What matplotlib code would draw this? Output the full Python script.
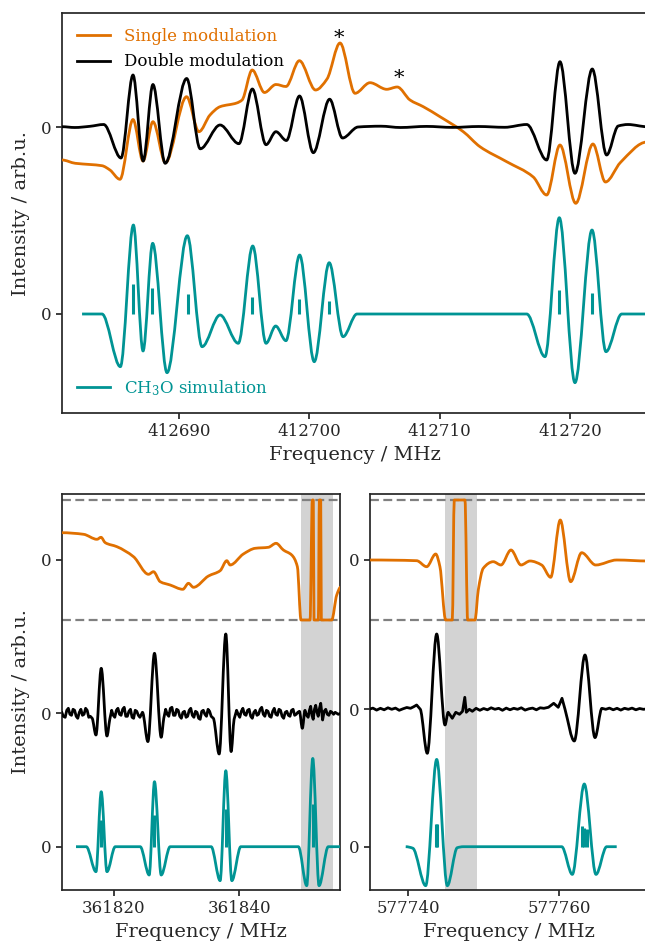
import numpy as np
import matplotlib
matplotlib.use("Agg")
import matplotlib.pyplot as plt
from matplotlib.path import Path
from matplotlib.patches import PathPatch
from matplotlib.lines import Line2D

plt.rcParams['font.family'] = ['DejaVu Serif']
plt.rcParams['mathtext.fontset'] = 'dejavuserif'

ORANGE = '#E07000'
BLACK = '#000000'
TEAL = '#009494'
AXC = '#262626'

# ---------------- data: top panel (412.7 GHz region) ----------------
top_sim_f = [412682.56, 412684.09, 412685.50, 412686.50, 412687.24, 412687.98, 412689.08,
             412690.64, 412691.77, 412693.15, 412694.55, 412695.66, 412696.68, 412697.42,
             412698.21, 412699.26, 412700.38, 412701.53, 412702.59, 412703.66, 412716.69,
             412718.09, 412719.19, 412720.39, 412721.70, 412722.77, 412723.98, 412725.92]
top_sim_i = [0, 0, -5.27, 8.9, -3.7, 7.07, -5.87, 7.83, -3.27, -0.1, -2.93, 6.8, -2.93, -1.2,
             -2.67, 5.9, -4.77, 5.13, -2.27, 0, 0, -4.27, 9.63, -6.87, 8.4, -3.77, 0, 0]

top_dbl_f = [412681.02, 412682.0, 412683.17, 412684.22, 412685.55, 412686.47, 412687.25,
             412688.0, 412688.94, 412690.59, 412691.63, 412693.15, 412694.6, 412695.63,
             412696.68, 412697.44, 412698.24, 412699.25, 412700.31, 412701.56, 412702.55,
             412703.74, 412705.5, 412707.0, 412709.0, 412711.0, 412713.0, 412715.0,
             412716.69, 412718.22, 412719.24, 412720.39, 412721.72, 412722.82, 412723.71,
             412724.46, 412725.92]
top_dbl_i = [0.03, -0.05, 0.07, 0.25, -3.1, 5.2, -3.4, 4.25, -3.63, 4.85, -2.18, 0.2, -1.67,
             3.8, -1.77, -0.47, -1.35, 3.1, -2.57, 2.78, -1.1, 0.0, 0.08, -0.05, 0.06, -0.04,
             0.05, -0.03, 0.25, -3.3, 6.53, -4.63, 5.8, -2.8, 0.1, 0.25, 0.03]

top_sgl_f = [412681.02, 412682.04, 412683.17, 412684.09, 412684.7, 412685.47, 412686.47,
             412687.24, 412688.0, 412688.96, 412690.58, 412691.53, 412692.38, 412693.15,
             412694.43, 412694.84, 412695.62, 412696.56, 412697.44, 412698.21, 412699.24,
             412700.48, 412701.36, 412702.36, 412703.51, 412704.66, 412705.94, 412706.75,
             412707.73, 412708.75, 412710.03, 412711.82, 412713.1, 412715.15, 412717.19,
             412718.22, 412719.24, 412720.45, 412721.77, 412722.73, 412723.88, 412725.92]
top_sgl_i = [-3.3, -3.63, -3.75, -3.87, -4.3, -5.23, 0.75, -3.4, 0.53, -3.57, 3.03, -0.47,
             1.2, 2.03, 2.4, 2.7, 5.7, 3.45, 4.25, 4.05, 6.63, 3.7, 4.8, 8.4, 3.37, 4.43,
             3.77, 4.0, 2.7, 2.03, 1.03, -0.47, -1.97, -3.47, -5.0, -6.8, -1.8, -7.63, -1.7,
             -5.5, -3.55, -1.5]

top_stick_f = [412686.50, 412687.93, 412690.69, 412695.63, 412699.23, 412701.53, 412719.19, 412721.72]
top_stick_i = [3.0, 2.6, 2.0, 1.7, 1.5, 1.3, 2.4, 2.1]

top_marks_f = [412702.28, 412706.88]
top_marks_i = [8.9, 4.9]

# ---------------- data: bottom-left panel (361.8 GHz region) ----------------
bl_sgl_f = [361811.7, 361815.23, 361817.36, 361818.0, 361818.68, 361820.54, 361823.18,
            361825.57, 361826.36, 361827.43, 361829.02, 361831.04, 361831.93, 361832.73,
            361835.12, 361836.98, 361838.04, 361838.57, 361840.68, 361842.55, 361844.66,
            361845.89, 361847.05, 361848.38, 361849.28, 361849.86, 361851.3, 361851.66,
            361851.82, 361851.93, 361852.62, 361852.78, 361853.0, 361853.1, 361854.75,
            361855.55, 361856.2]
bl_sgl_i = [2.73, 2.57, 2.07, 2.27, 1.73, 1.33, 0.33, -1.43, -1.17, -2.17, -2.5, -2.93, -2.33,
            -2.73, -1.6, -1.07, -0.07, -0.5, 0.6, 1.17, 1.27, 1.67, 1.0, 0.5, -0.67, -6.0,
            -6.0, 6.0, 6.0, -6.0, -6.0, 6.0, 6.0, -6.0, -6.0, -3.5, -2.7]

bl_dbl_f = [361811.7, 361812.0, 361812.3, 361812.55, 361812.8, 361813.05, 361813.3, 361813.55,
            361813.8, 361814.05, 361814.3, 361814.55, 361814.8, 361815.05, 361815.3, 361815.55,
            361815.8, 361816.05, 361816.3, 361816.6, 361817.2, 361818.04, 361818.95, 361819.4,
            361819.7, 361819.95, 361820.2, 361820.45, 361820.7, 361820.95, 361821.2, 361821.45,
            361821.7, 361821.95, 361822.2, 361822.45, 361822.7, 361822.95, 361823.2, 361823.45,
            361823.7, 361823.95, 361824.2, 361824.6, 361825.47, 361826.52, 361827.59, 361828.0,
            361828.3, 361828.55, 361828.8, 361829.05, 361829.3, 361829.55, 361829.8, 361830.05,
            361830.3, 361830.55, 361830.8, 361831.05, 361831.3, 361831.55, 361831.8, 361832.05,
            361832.3, 361832.55, 361832.8, 361833.05, 361833.3, 361833.55, 361833.8, 361834.05,
            361834.3, 361834.55, 361834.8, 361835.05, 361835.3, 361835.55, 361835.9, 361836.82,
            361837.88, 361838.73, 361839.2, 361839.6, 361839.85, 361840.1, 361840.35, 361840.6,
            361840.85, 361841.1, 361841.35, 361841.6, 361841.85, 361842.1, 361842.35, 361842.6,
            361842.85, 361843.1, 361843.35, 361843.6, 361843.85, 361844.1, 361844.35, 361844.6,
            361844.85, 361845.1, 361845.35, 361845.6, 361845.85, 361846.1, 361846.35, 361846.6,
            361846.85, 361847.1, 361847.35, 361847.6, 361847.85, 361848.1, 361848.35, 361848.6,
            361848.85, 361849.1, 361849.35, 361849.6, 361850.07, 361850.5, 361850.75, 361851.0,
            361851.2, 361851.4, 361851.6, 361851.8, 361852.0, 361852.2, 361852.4, 361852.6,
            361852.8, 361853.0, 361853.3, 361853.55, 361853.8, 361854.05, 361854.3, 361854.55,
            361854.8, 361855.05, 361855.3, 361855.55, 361855.8, 361856.2]
bl_dbl_i = [0.2, -0.3, -0.4, 0.3, 0.5, -0.1, -0.2, 0.4, 0.3, -0.3, -0.5, 0.1, 0.4, -0.2, -0.1,
            0.5, 0.3, -0.4, -0.3, -0.5, -2.17, 4.5, -2.27, -0.6, 0.3, -0.2, -0.4, 0.3, 0.5, -0.1,
            -0.2, 0.4, 0.6, -0.3, -0.3, 0.2, 0.4, -0.4, -0.5, 0.3, 0.2, -0.2, -0.4, 0.1, -2.83,
            6.0, -2.4, -0.5, 0.4, -0.1, -0.3, 0.5, 0.6, -0.2, -0.2, 0.4, 0.3, -0.3, -0.5, 0.1,
            0.2, -0.4, -0.3, 0.3, 0.5, -0.2, -0.4, 0.2, 0.1, -0.5, -0.6, 0.2, 0.3, -0.1, -0.3,
            0.4, 0.2, -0.3, -0.5, -4.07, 7.93, -3.83, -0.6, 0.3, -0.1, -0.4, 0.2, 0.5, -0.1, -0.2,
            0.3, 0.4, -0.3, -0.5, 0.1, 0.3, -0.2, -0.1, 0.4, 0.6, -0.1, -0.3, 0.3, 0.2, -0.3,
            -0.4, 0.2, 0.5, -0.1, -0.2, 0.4, 0.3, -0.3, -0.5, 0.1, 0.2, -0.2, -0.3, 0.3, 0.4,
            -0.2, -0.1, 0.1, 0.2, -1.5, 0.3, -0.2, -0.4, 0.3, 0.7, -0.2, -0.6, 0.4, 0.8, 0.1,
            -0.3, 0.5, 1.0, -0.67, 0.2, 0.4, -0.1, -0.2, 0.2, 0.1, -0.1, 0.1, 0.0, -0.1, 0.0]

bl_sim_f = [361814.02, 361815.66, 361817.2, 361818.04, 361818.95, 361820.27, 361824.25,
            361825.68, 361826.52, 361827.59, 361829.02, 361835.55, 361836.98, 361837.88,
            361838.84, 361840.27, 361849.44, 361850.77, 361851.73, 361852.73, 361854.2, 361856.2]
bl_sim_i = [0, 0, -2.5, 5.5, -2.5, 0, 0, -2.83, 6.5, -2.83, 0, 0, -3.4, 7.6, -3.4, 0, 0, -3.9,
            8.83, -3.9, 0, 0]

bl_stick_f = [361818.04, 361826.52, 361837.88, 361851.73]
bl_stick_i = [2.7, 3.2, 3.8, 4.3]

# ---------------- data: bottom-right panel (577.7 GHz region) ----------------
br_sgl_f = [577734.8, 577741.11, 577742.44, 577743.64, 577744.2, 577744.96, 577745.84, 577746.1,
            577747.52, 577747.88, 577748.85, 577749.29, 577749.95, 577751.28, 577752.3,
            577753.63, 577754.96, 577756.15, 577757.7, 577758.9, 577760.17, 577761.55,
            577763.01, 577764.87, 577767.66, 577771.8]
br_sgl_i = [0, -0.07, -0.67, 0.6, -0.67, -6.0, -6.0, 6.0, 6.0, -6.0, -6.0, -3.0, -0.83, -0.17,
            -0.5, 1.0, -0.5, -0.1, -0.5, -1.73, 4.0, -2.17, 0.73, -0.5, 0.0, -0.1]

br_dbl_f = [577734.8, 577735.3, 577735.8, 577736.3, 577736.8, 577737.3, 577737.8, 577738.3,
            577738.8, 577739.3, 577739.8, 577740.3, 577740.7, 577741.11, 577741.6,
            577742.52, 577743.77, 577744.87, 577745.3, 577745.84, 577746.3, 577746.8, 577747.2,
            577747.5, 577747.7, 577748.1, 577748.5, 577749.0, 577749.5, 577750.0, 577750.5,
            577751.0, 577751.5, 577752.0, 577752.5, 577753.0, 577753.5, 577754.0, 577754.5,
            577755.0, 577755.5, 577756.0, 577756.5, 577757.0, 577757.5, 577758.0, 577758.6,
            577759.3, 577759.9, 577760.4, 577760.8, 577762.03, 577763.45, 577764.78, 577765.7,
            577766.2, 577766.7, 577767.2, 577767.7, 577768.2, 577768.7, 577769.2, 577769.7,
            577770.2, 577770.7, 577771.2, 577771.8]
br_dbl_i = [0.0, 0.12, -0.08, 0.1, -0.05, 0.15, 0.0, 0.12, -0.1, 0.05, 0.18, 0.1, 0.25, 0.43,
            0.0, -4.4, 7.53, -1.57, -0.3, -0.9, -0.3, -0.5, -0.2, 1.2, -0.3, 0.0, -0.2, 0.1,
            -0.1, 0.08, -0.05, 0.15, 0.0, 0.1, -0.1, 0.12, -0.05, 0.1, 0.0, 0.15, -0.08, 0.05,
            0.12, -0.05, 0.15, 0.1, 0.2, 0.6, 0.2, 1.1, 0.0, -3.17, 5.43, -2.83, 0.1, 0.0, 0.12,
            -0.05, 0.1, -0.08, 0.1, 0.0, 0.12, -0.05, 0.08, 0.0, 0.05]

br_sim_f = [577739.66, 577740.6, 577742.31, 577743.77, 577745.18, 577746.5, 577747.3,
            577760.36, 577761.77, 577763.36, 577764.91, 577766.33, 577767.66]
br_sim_i = [0, -0.15, -3.9, 8.73, -3.9, -0.1, 0, 0, -2.77, 6.27, -2.77, 0, 0]

br_stick_f = [577743.62, 577743.82, 577763.0, 577763.35, 577763.7]
br_stick_i = [2.3, 2.3, 2.07, 1.83, 1.73]

# offsets / limits (arbitrary intensity units)
TOP_OFF = {'exp': 0.0, 'sim': -18.7}
BL_OFF = {'sgl': 0.0, 'dbl': -15.33, 'sim': -28.67}
BR_OFF = {'sgl': 0.0, 'dbl': -14.93, 'sim': -28.67}
CLIP = 6.0
BL_SHADE = (361849.86, 361854.91)
BR_SHADE = (577744.87, 577749.08)


def smooth_line(ax, x, y, offset=0.0, color='k', lw=2.0, zorder=3, lin_below=None):
    """Monotone cubic Bezier path through the points; segments whose two ends both lie
    below `lin_below` in magnitude (baseline noise) are drawn as straight segments."""
    x = np.asarray(x, float)
    y0 = np.asarray(y, float)
    y = y0 + offset
    h = np.diff(x)
    dl = np.diff(y) / h
    d = np.zeros_like(y)
    for k in range(1, len(x) - 1):
        if dl[k - 1] * dl[k] > 0:
            w1 = 2 * h[k] + h[k - 1]
            w2 = h[k] + 2 * h[k - 1]
            d[k] = (w1 + w2) / (w1 / dl[k - 1] + w2 / dl[k])
    verts = [(x[0], y[0])]
    codes = [Path.MOVETO]
    for k in range(len(x) - 1):
        if lin_below is not None and abs(y0[k]) < lin_below and abs(y0[k + 1]) < lin_below:
            verts.append((x[k + 1], y[k + 1]))
            codes.append(Path.LINETO)
        else:
            verts += [(x[k] + h[k] / 3, y[k] + d[k] * h[k] / 3),
                      (x[k + 1] - h[k] / 3, y[k + 1] - d[k + 1] * h[k] / 3),
                      (x[k + 1], y[k + 1])]
            codes += [Path.CURVE4] * 3
    patch = PathPatch(Path(verts, codes), facecolor='none', edgecolor=color, lw=lw,
                      joinstyle='round', capstyle='butt', zorder=zorder)
    ax.add_patch(patch)


def sticks(ax, f, i, offset, color=TEAL, lw=2.2):
    ax.vlines(f, offset, np.asarray(i) + offset, colors=color, lw=lw, zorder=4)


def style(ax):
    for s in ax.spines.values():
        s.set_color(AXC)
        s.set_linewidth(1.25)
    ax.tick_params(colors=AXC, labelsize=12, width=1.25, length=4)
    ax.ticklabel_format(axis='x', useOffset=False, style='plain')


fig = plt.figure(figsize=(6.45, 9.43), dpi=100)

# ---------------- top panel ----------------
ax = fig.add_axes([62 / 645, 1 - 413 / 943, 585 / 645, 400 / 943])
smooth_line(ax, top_sgl_f, top_sgl_i, TOP_OFF['exp'], ORANGE)
smooth_line(ax, top_dbl_f, top_dbl_i, TOP_OFF['exp'], BLACK)
smooth_line(ax, top_sim_f, top_sim_i, TOP_OFF['sim'], TEAL)
sticks(ax, top_stick_f, top_stick_i, TOP_OFF['sim'])
for f, v in zip(top_marks_f, top_marks_i):
    ax.text(f, v, '*', ha='center', va='center', fontsize=15, color='k')
ax.set_xlim(412681.02, 412725.92)
ax.set_ylim(-28.6, 11.4)
ax.set_xticks([412690, 412700, 412710, 412720])
ax.set_yticks([TOP_OFF['exp'], TOP_OFF['sim']])
ax.set_yticklabels(['0', '0'])
style(ax)
ax.set_xlabel('Frequency / MHz', fontsize=14, color=AXC)
ax.set_ylabel('Intensity / arb.u.', fontsize=14, color=AXC, labelpad=8)
h1 = [Line2D([], [], color=ORANGE, lw=2), Line2D([], [], color=BLACK, lw=2)]
leg1 = ax.legend(h1, ['Single modulation', 'Double modulation'], loc='upper left',
                 frameon=False, fontsize=12)
leg1.get_texts()[0].set_color(ORANGE)
leg1.get_texts()[1].set_color(BLACK)
ax.add_artist(leg1)
leg2 = ax.legend([Line2D([], [], color=TEAL, lw=2)], ['CH$_3$O simulation'],
                 loc='lower left', frameon=False, fontsize=12)
leg2.get_texts()[0].set_color(TEAL)

# ---------------- bottom-left panel ----------------
ax = fig.add_axes([62 / 645, 1 - 890 / 943, 278 / 645, 396 / 943])
ax.axvspan(*BL_SHADE, color='#d3d3d3', lw=0, zorder=1)
for c in (CLIP, -CLIP):
    ax.axhline(c, color='#808080', lw=1.6, dashes=(4, 2), zorder=2)
smooth_line(ax, bl_sgl_f, bl_sgl_i, BL_OFF['sgl'], ORANGE)
smooth_line(ax, bl_dbl_f, bl_dbl_i, BL_OFF['dbl'], BLACK, lin_below=1.3)
smooth_line(ax, bl_sim_f, bl_sim_i, BL_OFF['sim'], TEAL)
sticks(ax, bl_stick_f, bl_stick_i, BL_OFF['sim'])
ax.set_xlim(361811.79, 361856.07)
ax.set_ylim(-33.0, 6.6)
ax.set_xticks([361820, 361840])
ax.set_yticks([BL_OFF['sgl'], BL_OFF['dbl'], BL_OFF['sim']])
ax.set_yticklabels(['0', '0', '0'])
style(ax)
ax.set_xlabel('Frequency / MHz', fontsize=14, color=AXC)
ax.set_ylabel('Intensity / arb.u.', fontsize=14, color=AXC, labelpad=8)

# ---------------- bottom-right panel ----------------
ax = fig.add_axes([370 / 645, 1 - 890 / 943, 277 / 645, 396 / 943])
ax.axvspan(*BR_SHADE, color='#d3d3d3', lw=0, zorder=1)
for c in (CLIP, -CLIP):
    ax.axhline(c, color='#808080', lw=1.6, dashes=(4, 2), zorder=2)
smooth_line(ax, br_sgl_f, br_sgl_i, BR_OFF['sgl'], ORANGE)
smooth_line(ax, br_dbl_f, br_dbl_i, BR_OFF['dbl'], BLACK, lin_below=1.3)
smooth_line(ax, br_sim_f, br_sim_i, BR_OFF['sim'], TEAL)
sticks(ax, br_stick_f, br_stick_i, BR_OFF['sim'])
ax.set_xlim(577734.92, 577771.68)
ax.set_ylim(-33.0, 6.6)
ax.set_xticks([577740, 577760])
ax.set_yticks([BR_OFF['sgl'], BR_OFF['dbl'], BR_OFF['sim']])
ax.set_yticklabels(['0', '0', '0'])
style(ax)
ax.set_xlabel('Frequency / MHz', fontsize=14, color=AXC)

fig.savefig('out.png', dpi=100)
